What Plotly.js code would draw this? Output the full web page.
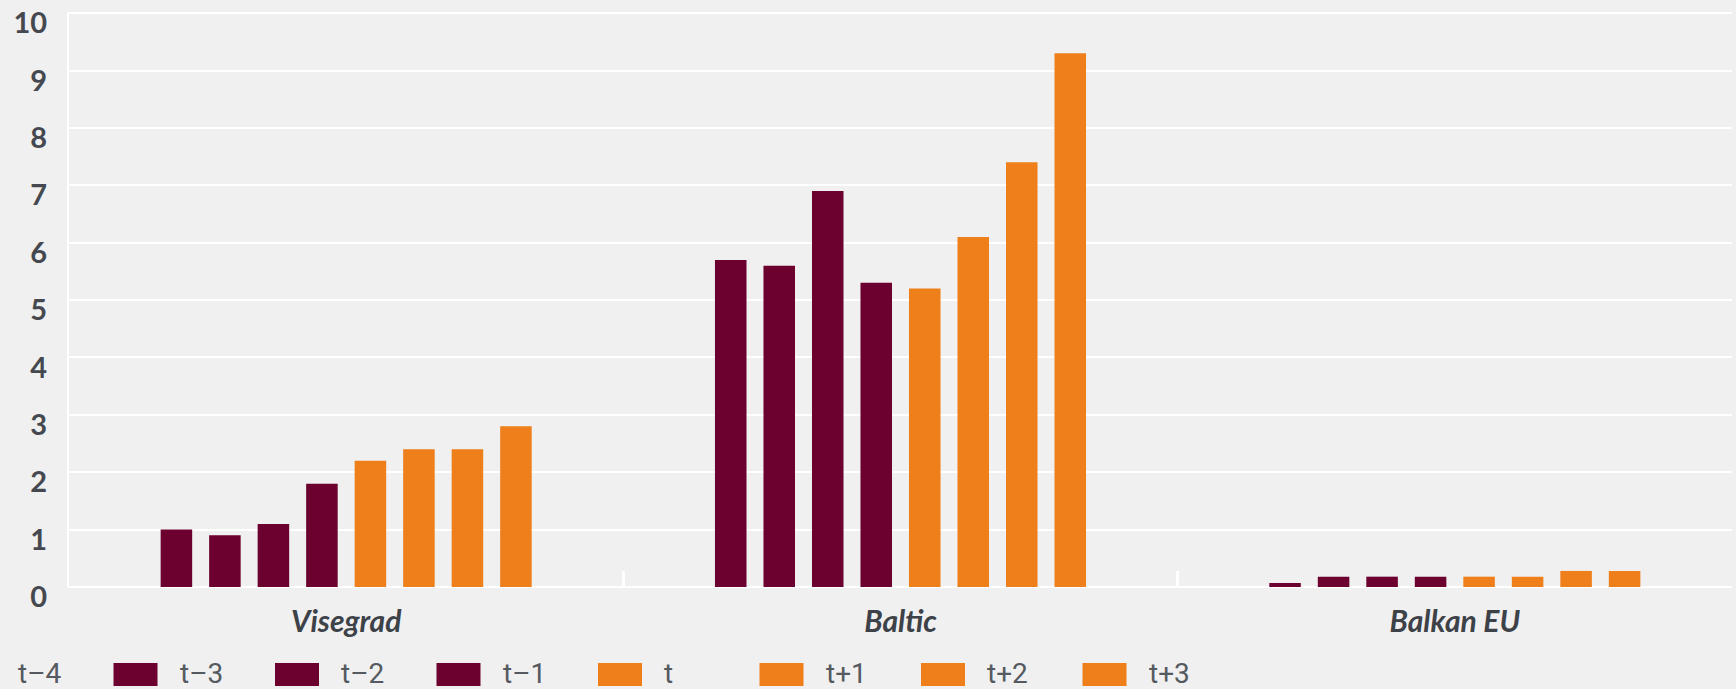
<!DOCTYPE html>
<html>
<head>
<meta charset="utf-8">
<script src="https://cdn.plot.ly/plotly-3.0.1.min.js"></script>
<style>
  html, body { margin: 0; padding: 0; background: #f0f0f0; }
  #chart { width: 1736px; height: 689px; }
</style>
</head>
<body>
<div id="chart"></div>
<script>
// ---- data ----
const categories = ['Visegrad', 'Baltic', 'Balkan EU'];
const seriesNames = ['t\u20134', 't\u20133', 't\u20132', 't\u20131', 't', 't+1', 't+2', 't+3'];
const v_tm4 = [1.0, 5.7, 0.07];
const v_tm3 = [0.9, 5.6, 0.18];
const v_tm2 = [1.1, 6.9, 0.18];
const v_tm1 = [1.8, 5.3, 0.18];
const v_t0  = [2.2, 5.2, 0.18];
const v_tp1 = [2.4, 6.1, 0.18];
const v_tp2 = [2.4, 7.4, 0.28];
const v_tp3 = [2.8, 9.3, 0.28];
const seriesValues = [v_tm4, v_tm3, v_tm2, v_tm1, v_t0, v_tp1, v_tp2, v_tp3];
const yTicks = [0, 1, 2, 3, 4, 5, 6, 7, 8, 9, 10];

// ---- styles ----
const MAROON = '#6c002f';
const ORANGE = '#ef7f1a';
const seriesColors = [MAROON, MAROON, MAROON, MAROON, ORANGE, ORANGE, ORANGE, ORANGE];
const BG = '#f0f0f0';
const W = 1736, H = 689;
const M = { l: 69, r: 4, t: 12, b: 102 };
const PW = W - M.l - M.r, PH = H - M.t - M.b;

const traces = seriesNames.map((name, i) => ({
  type: 'bar',
  name: name,
  x: categories,
  y: seriesValues[i],
  marker: { color: seriesColors[i], line: { width: 0 } },
  showlegend: false,
  hoverinfo: 'x+y+name'
}));

// custom legend (larger swatches than plotly's native legend)
const px2x = px => (px - M.l) / PW;
const px2y = py => (H - M.b - py) / PH;
const LEG_X0 = -48, LEG_PITCH = 161.5, SW_W = 44, SW_TOP = 663, SW_BOT = 686, TXT_OFF = 64, LEG_CY = 673;
const shapes = [];
const annotations = [];
seriesNames.forEach((name, i) => {
  const x0 = LEG_X0 + i * LEG_PITCH;
  shapes.push({
    type: 'rect', xref: 'paper', yref: 'paper',
    x0: px2x(x0), x1: px2x(x0 + SW_W), y0: px2y(SW_BOT), y1: px2y(SW_TOP),
    fillcolor: seriesColors[i], line: { width: 0 }, layer: 'above'
  });
  annotations.push({
    xref: 'paper', yref: 'paper', x: px2x(x0 + TXT_OFF), y: px2y(LEG_CY),
    xanchor: 'left', yanchor: 'middle', showarrow: false, text: name,
    font: { family: 'Roboto, "Liberation Sans", sans-serif', size: 28, color: '#555a61' }
  });
});

const layout = {
  width: W, height: H,
  margin: M,
  paper_bgcolor: BG,
  plot_bgcolor: BG,
  showlegend: false,
  barmode: 'group',
  bargap: 0.3,
  bargroupgap: 0.35,
  xaxis: {
    type: 'category',
    tickson: 'boundaries',
    ticks: 'inside',
    ticklen: 16,
    tickwidth: 3,
    tickcolor: '#ffffff',
    showgrid: false,
    showline: false,
    ticklabelstandoff: 14,
    tickfont: { family: 'Lato, "Open Sans", sans-serif', size: 30, color: '#3d4148', weight: 700, style: 'italic' }
  },
  yaxis: {
    range: [0, 10.02],
    tickvals: yTicks,
    ticktext: yTicks.map(String),
    showgrid: true,
    gridcolor: '#ffffff',
    gridwidth: 2,
    zeroline: true,
    zerolinecolor: '#ffffff',
    zerolinewidth: 2,
    showline: true,
    linecolor: '#ffffff',
    linewidth: 2,
    ticks: '',
    ticklabelstandoff: 14,
    ticklabelshift: 10,
    ticklabeloverflow: 'allow',
    tickfont: { family: 'Lato, "Open Sans", sans-serif', size: 29, color: '#45494f', weight: 700 }
  },
  shapes: shapes,
  annotations: annotations
};

Plotly.newPlot('chart', traces, layout, { staticPlot: true, displayModeBar: false });
</script>
</body>
</html>
